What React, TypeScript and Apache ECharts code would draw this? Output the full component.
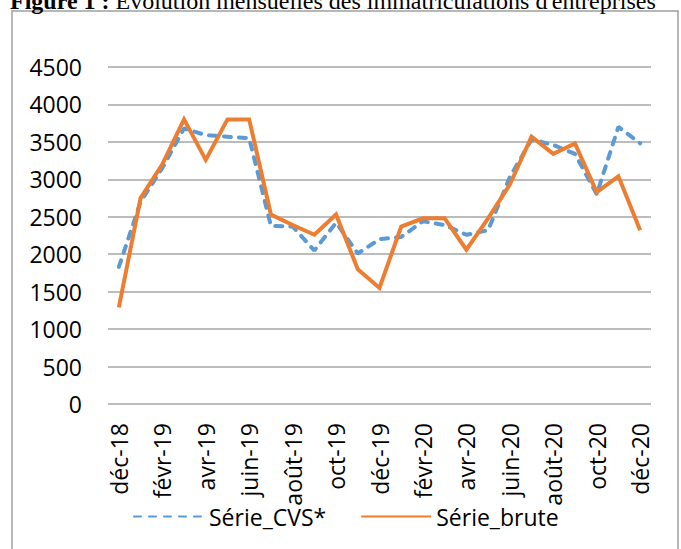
import React, { useEffect, useRef } from "react";
import * as echarts from "echarts";

const categories = [
  "déc-18", "janv-19", "févr-19", "mars-19", "avr-19", "mai-19", "juin-19", "juil-19",
  "août-19", "sept-19", "oct-19", "nov-19", "déc-19", "janv-20", "févr-20", "mars-20",
  "avr-20", "mai-20", "juin-20", "juil-20", "août-20", "sept-20", "oct-20", "nov-20", "déc-20",
];

const serieCVS = [
  1830, 2700, 3150, 3680, 3590, 3570, 3550, 2380, 2370, 2050, 2420, 2010, 2200,
  2230, 2440, 2390, 2260, 2320, 3030, 3530, 3460, 3340, 2800, 3700, 3480,
];

const serieBrute = [
  1290, 2750, 3200, 3800, 3260, 3800, 3800, 2530, 2390, 2260, 2530, 1800, 1550,
  2370, 2480, 2480, 2060, 2480, 2930, 3570, 3340, 3480, 2830, 3040, 2320,
];

const titleBold = "Figure 1 :";
const titleRest = " Évolution mensuelles des immatriculations d'entreprises";

const FONT = "'Open Sans', 'Noto Sans', sans-serif";

export default function App() {
  const ref = useRef<HTMLDivElement>(null);
  useEffect(() => {
    if (!ref.current) return;
    const chart = echarts.init(ref.current, null, { renderer: "svg" });
    chart.setOption({
      animation: false,
      backgroundColor: "#ffffff",
      grid: { left: 108, right: 30, top: 67, bottom: 145, containLabel: false },
      graphic: [
        {
          type: "rect",
          shape: { x: 12, y: 11, width: 666, height: 600 },
          style: { fill: "none", stroke: "#a0a0a0", lineWidth: 1.5 },
          z: 0,
        },
        {
          type: "text",
          x: 10,
          y: 13,
          style: {
            text: "{b|" + titleBold + "}{r|" + titleRest + "}",
            verticalAlign: "bottom",
            rich: {
              b: { fontFamily: "'Liberation Serif', serif", fontSize: 24, fontWeight: "bold", fill: "#000" },
              r: { fontFamily: "'Liberation Serif', serif", fontSize: 24, fill: "#000" },
            },
          },
        },
      ],
      legend: {
        left: 133,
        top: 505,
        padding: 0,
        itemWidth: 70,
        itemHeight: 14,
        itemGap: 34,
        itemStyle: { opacity: 0, borderWidth: 0 },
        textStyle: { fontFamily: FONT, fontSize: 23, color: "#000" },
        data: ["Série_CVS*", "Série_brute"],
      },
      xAxis: {
        type: "category",
        data: categories,
        boundaryGap: true,
        axisTick: { show: false },
        axisLine: { show: false },
        axisLabel: {
          interval: 1,
          rotate: 90,
          margin: 19,
          fontFamily: FONT,
          fontSize: 23,
          color: "#000",
        },
      },
      yAxis: {
        type: "value",
        min: 0,
        max: 4500,
        interval: 500,
        axisLine: { show: false },
        axisTick: { show: false },
        axisLabel: {
          margin: 26,
          fontFamily: FONT,
          fontSize: 23,
          color: "#000",
          formatter: (v: number) => String(v),
        },
        splitLine: { lineStyle: { color: "#a6a6a6", width: 1.5 } },
      },
      series: [
        {
          name: "Série_CVS*",
          type: "line",
          data: serieCVS,
          symbol: "none",
          lineStyle: { color: "#5B9BD5", width: 4, type: [7, 8], cap: "round" },
          itemStyle: { color: "#5B9BD5" },
          z: 2,
        },
        {
          name: "Série_brute",
          type: "line",
          data: serieBrute,
          symbol: "none",
          lineStyle: { color: "#ED7D31", width: 4, join: "miter" },
          itemStyle: { color: "#ED7D31" },
          z: 3,
        },
      ],
    });
    return () => chart.dispose();
  }, []);
  return (
    <div
      ref={ref}
      style={{ position: "fixed", left: 0, top: 0, width: 681, height: 549 }}
    />
  );
}
